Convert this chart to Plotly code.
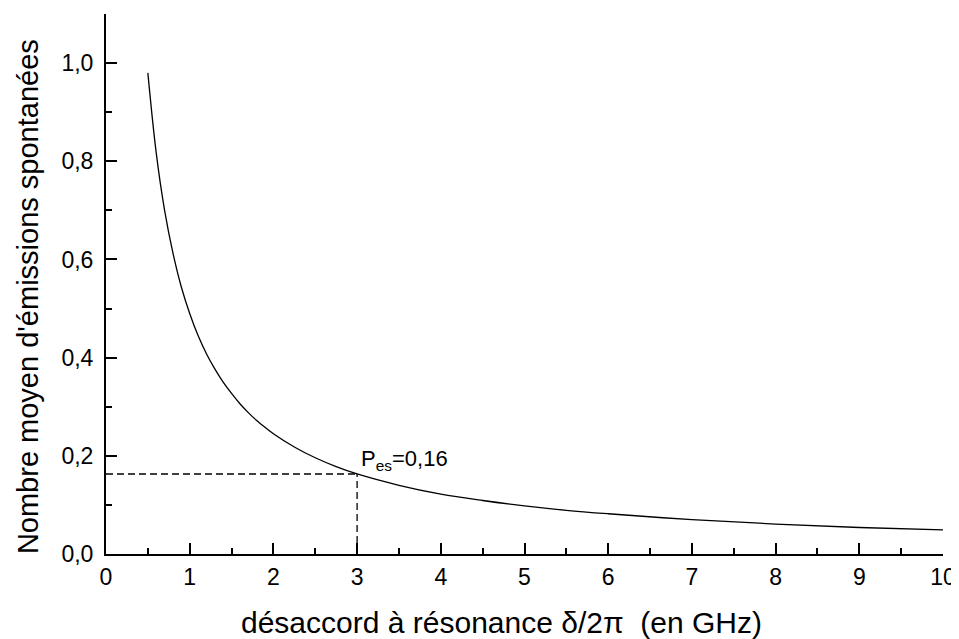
import plotly.graph_objects as go

# curve readings (detuning in GHz, mean number of spontaneous emissions)
detuning = [0.5, 0.6, 0.7, 0.8, 0.9, 1.0, 1.1, 1.2, 1.3, 1.4, 1.5, 1.6, 1.7, 1.8, 1.9, 2.0,
            2.25, 2.5, 2.75, 3.0, 3.5, 4.0, 4.5, 5.0, 5.5, 6.0, 7.0, 8.0, 9.0, 10.0]
emissions = [0.98, 0.817, 0.70, 0.613, 0.544, 0.49, 0.445, 0.408, 0.377, 0.35, 0.327, 0.306, 0.288, 0.272, 0.258, 0.245,
             0.218, 0.196, 0.178, 0.163, 0.14, 0.122, 0.109, 0.098, 0.089, 0.082, 0.07, 0.061, 0.054, 0.049]

marker_x = 3.0
marker_y = 0.163
annot_text = "P<sub>es</sub>=0,16"

x_ticks = [0, 1, 2, 3, 4, 5, 6, 7, 8, 9, 10]
y_ticks = [0.0, 0.2, 0.4, 0.6, 0.8, 1.0]
y_ticklabels = ["0,0", "0,2", "0,4", "0,6", "0,8", "1,0"]

x_title = "désaccord à résonance δ/2π  (en GHz)"
y_title = "Nombre moyen d'émissions spontanées"

FAM = "Liberation Sans, Arial, Helvetica, sans-serif"

fig = go.Figure()
fig.add_trace(go.Scatter(x=detuning, y=emissions, mode="lines",
                         line=dict(color="black", width=1.3, shape="spline", smoothing=1.0),
                         showlegend=False, hoverinfo="skip"))
fig.add_trace(go.Scatter(x=[0, marker_x], y=[marker_y, marker_y], mode="lines",
                         line=dict(color="black", width=1.3, dash="7px,4px"), showlegend=False))
fig.add_trace(go.Scatter(x=[marker_x, marker_x], y=[0, marker_y], mode="lines",
                         line=dict(color="black", width=1.3, dash="7px,4px"), showlegend=False))

fig.add_annotation(x=marker_x, y=marker_y, text=annot_text, showarrow=False,
                   xanchor="left", yanchor="bottom", xshift=2, yshift=-2,
                   font=dict(family=FAM, size=22, color="black"))

# axis titles (placed as paper annotations to match the original's offsets)
fig.add_annotation(xref="paper", yref="paper", x=0.472, y=-0.126, text=x_title, showarrow=False,
                   xanchor="center", yanchor="middle", font=dict(family=FAM, size=30, color="black"))
fig.add_annotation(xref="paper", yref="paper", x=-0.093, y=0.476, text=y_title, showarrow=False,
                   textangle=-90, xanchor="center", yanchor="middle", font=dict(family=FAM, size=29, color="black"))

tickfont = dict(family=FAM, size=23, color="black")
fig.update_layout(
    width=951, height=631,
    margin=dict(l=98, r=16, t=6, b=85),
    plot_bgcolor="white", paper_bgcolor="white",
    font=dict(family=FAM, size=23, color="black"),
    xaxis=dict(range=[0, 10], tickvals=x_ticks, ticks="inside", ticklen=11, tickwidth=1.5,
               tickcolor="black", showline=True, linecolor="black", linewidth=2,
               showgrid=False, zeroline=False, automargin=False, tickfont=tickfont,
               minor=dict(ticks="inside", ticklen=6, tickwidth=1.5, tickcolor="black", dtick=0.5, tick0=0, showgrid=False),
               ticklabelstandoff=1),
    yaxis=dict(range=[0, 1.1], tickvals=y_ticks, ticktext=y_ticklabels, ticks="inside", ticklen=11, tickwidth=1.5,
               tickcolor="black", showline=True, linecolor="black", linewidth=2,
               showgrid=False, zeroline=False, automargin=False, tickfont=tickfont,
               minor=dict(ticks="inside", ticklen=6, tickwidth=1.5, tickcolor="black", dtick=0.1, tick0=0, showgrid=False),
               ticklabelstandoff=6),
)

fig.write_html("out.html")
